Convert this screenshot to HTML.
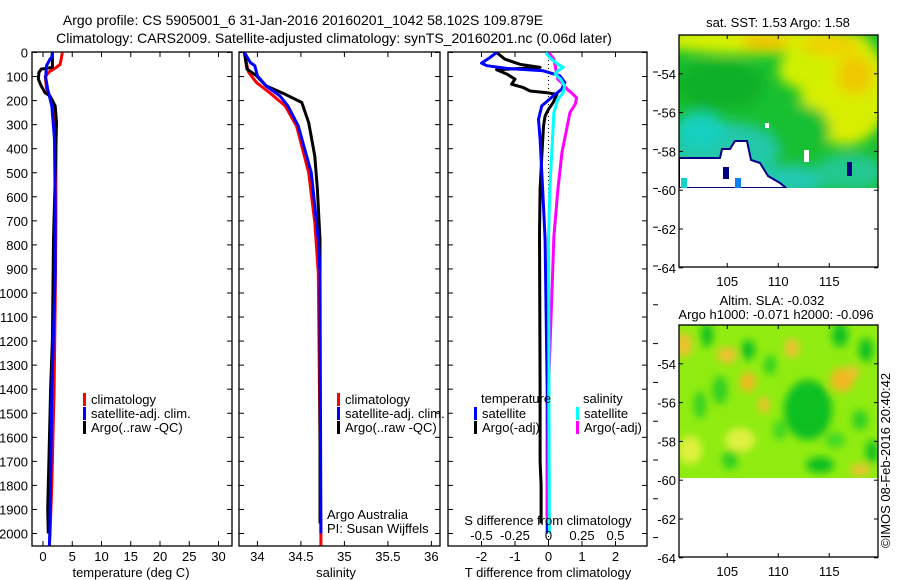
<!DOCTYPE html>
<html><head><meta charset="utf-8"><style>
html,body{margin:0;padding:0;background:#fff;}
svg{display:block;font-family:"Liberation Sans",sans-serif;}
text{font-size:13px;fill:#000;}
</style></head><body>
<svg id="chart" width="900" height="580" viewBox="0 0 900 580" xmlns="http://www.w3.org/2000/svg">
<defs>
<filter id="bl" x="-50%" y="-50%" width="200%" height="200%"><feGaussianBlur stdDeviation="6"/></filter>
<filter id="bl2" x="-50%" y="-50%" width="200%" height="200%"><feGaussianBlur stdDeviation="4"/></filter>
<clipPath id="c1"><rect x="679" y="35" width="199" height="153"/></clipPath>
<clipPath id="c2"><rect x="679" y="325" width="199" height="153"/></clipPath>
</defs>
<text x="303" y="25" text-anchor="middle" style="font-size:14px">Argo profile: CS 5905001_6 31-Jan-2016 20160201_1042 58.102S 109.879E</text>
<text x="334" y="43" text-anchor="middle" style="font-size:14px">Climatology: CARS2009. Satellite-adjusted climatology: synTS_20160201.nc (0.06d later)</text>

<g id="p1"></g>
<g id="p2"></g>
<g id="p3"></g>

<!-- SST map -->
<g>
<text x="778" y="27" text-anchor="middle">sat. SST: 1.53 Argo: 1.58</text>
<g clip-path="url(#c1)">
<rect x="679" y="35" width="199" height="153" fill="#18c030"/>
<g filter="url(#bl)">
<ellipse cx="760" cy="40" rx="110" ry="14" fill="#d8f000"/>
<ellipse cx="845" cy="90" rx="45" ry="55" fill="#d8ee00"/>
<ellipse cx="800" cy="70" rx="22" ry="18" fill="#d0f000"/>
<ellipse cx="765" cy="42" rx="25" ry="8" fill="#f0c000"/>
<ellipse cx="855" cy="75" rx="18" ry="20" fill="#f0c800"/>
<ellipse cx="830" cy="45" rx="30" ry="10" fill="#f0d000"/>
<ellipse cx="720" cy="85" rx="45" ry="25" fill="#10b028"/>
<ellipse cx="725" cy="150" rx="55" ry="28" fill="#20c8a8"/>
<ellipse cx="700" cy="130" rx="25" ry="18" fill="#18d0c0"/>
<ellipse cx="790" cy="180" rx="40" ry="15" fill="#20c8b0"/>
<ellipse cx="850" cy="172" rx="35" ry="18" fill="#20c890"/>
<ellipse cx="800" cy="130" rx="30" ry="25" fill="#18c030"/>
</g>
<polygon points="679,158 720,158 722,149 730,149 735,141 747,141 751,160 760,163 768,176 780,183 786,188 679,188" fill="#fff" stroke="#000080" stroke-width="2"/>
<rect x="681" y="178" width="6" height="10" fill="#10d0d0"/>
<rect x="723" y="167" width="6" height="12" fill="#000080"/>
<rect x="735" y="178" width="6" height="10" fill="#1080f0"/>
<rect x="847" y="162" width="5" height="14" fill="#000080"/>
<rect x="804" y="150" width="5" height="12" fill="#fff"/>
<rect x="765" y="123" width="4" height="5" fill="#fff"/>
</g>
<rect x="679" y="35" width="199" height="232" fill="none" stroke="#000" stroke-width="1.3"/>
</g>

<!-- SLA map -->
<g>
<text x="772" y="305" text-anchor="middle">Altim. SLA: -0.032</text>
<text x="776" y="319" text-anchor="middle">Argo h1000: -0.071 h2000: -0.096</text>
<g clip-path="url(#c2)">
<rect x="679" y="325" width="199" height="153" fill="#90ec10"/>
<g filter="url(#bl2)">
<ellipse cx="684" cy="345" rx="8" ry="12" fill="#f0c030"/>
<ellipse cx="727" cy="355" rx="10" ry="8" fill="#f0c030"/>
<ellipse cx="748" cy="382" rx="8" ry="10" fill="#f0b820"/>
<ellipse cx="764" cy="405" rx="6" ry="8" fill="#f0c030"/>
<ellipse cx="792" cy="348" rx="7" ry="10" fill="#f0c030"/>
<ellipse cx="842" cy="380" rx="12" ry="12" fill="#f0b820"/>
<ellipse cx="852" cy="372" rx="8" ry="6" fill="#f0c030"/>
<ellipse cx="860" cy="470" rx="10" ry="6" fill="#f0c030"/>
<ellipse cx="690" cy="450" rx="12" ry="14" fill="#e0f040"/>
<ellipse cx="740" cy="440" rx="15" ry="12" fill="#e0f040"/>
<ellipse cx="707" cy="335" rx="6" ry="12" fill="#10c020"/>
<ellipse cx="748" cy="350" rx="7" ry="10" fill="#10c020"/>
<ellipse cx="808" cy="410" rx="24" ry="30" fill="#10c020"/>
<ellipse cx="840" cy="335" rx="8" ry="12" fill="#10c020"/>
<ellipse cx="866" cy="350" rx="7" ry="12" fill="#10c020"/>
<ellipse cx="770" cy="365" rx="6" ry="10" fill="#30d020"/>
<ellipse cx="820" cy="465" rx="14" ry="8" fill="#10c020"/>
<ellipse cx="872" cy="452" rx="6" ry="12" fill="#10c020"/>
<ellipse cx="700" cy="405" rx="6" ry="14" fill="#30d020"/>
<ellipse cx="730" cy="460" rx="8" ry="10" fill="#30d020"/>
<ellipse cx="720" cy="390" rx="8" ry="14" fill="#30d020"/>
<ellipse cx="860" cy="420" rx="8" ry="10" fill="#30d020"/>
<ellipse cx="835" cy="440" rx="10" ry="8" fill="#40d820"/>
<ellipse cx="780" cy="430" rx="7" ry="10" fill="#40d820"/>
</g>
</g>
<rect x="679" y="325" width="199" height="232" fill="none" stroke="#000" stroke-width="1.3"/>
</g>
<g id="maxes"></g>
<text transform="translate(890,548) rotate(-90)">©IMOS 08-Feb-2016 20:40:42</text>
<g id="sideticks"></g>
</svg>
<script>
// ---------- data ----------
const depthTicks = [0,100,200,300,400,500,600,700,800,900,1000,1100,1200,1300,1400,1500,1600,1700,1800,1900,2000];
const tempTicks = [0,5,10,15,20,25,30];
const salTicks = [34,34.5,35,35.5,36];
const salTickLabels = ["34","34.5","35","35.5","36"];
const tdiffTicks = [-2,-1,0,1,2];
const sdiffTicks = [-0.5,-0.25,0,0.25,0.5];
const sdiffLabels = ["-0.5","-0.25","0","0.25","0.5"];

const tClimDepth = [0,30,50,65,80,100,150,190,250,400,700,1000,1400,1800,2000,2050];
const tClimVal   = [3.3,3.1,2.9,2.1,1.1,0.4,0.6,1.3,1.9,2.2,2.2,2.1,1.9,1.5,1.2,1.1];
const tSatDepth  = [0,20,28,55,104,153,222,361,639,917,1400,2000,2050];
const tSatVal    = [1.6,1.5,1.2,0.6,0.46,0.8,1.5,1.97,2.09,2.09,1.52,1.16,1.1];
const tArgoDepth = [0,62,69,83,111,139,167,181,222,292,500,778,1194,1400,1700,1900,2000];
const tArgoVal   = [1.6,1.6,-0.3,-0.7,-0.78,-0.3,0.34,1.2,2.09,2.3,2.1,1.8,1.6,1.3,1.0,0.8,0.9];

const sClimDepth = [0,55,83,125,167,222,306,500,708,917,2000,2050];
const sClimVal   = [33.85,33.88,33.9,33.99,34.14,34.32,34.45,34.59,34.66,34.7,34.73,34.73];
const sSatDepth  = [0,42,55,97,139,181,222,306,500,778,917,2000];
const sSatVal    = [33.85,33.92,33.97,34.0,34.1,34.26,34.35,34.47,34.62,34.7,34.72,34.73];
const sArgoDepth = [0,69,97,139,174,208,292,431,569,778,917,1958];
const sArgoVal   = [33.85,33.88,33.99,34.1,34.32,34.51,34.59,34.66,34.69,34.72,34.72,34.72];

const dTSatDepth = [0,21,44,55,66,76,97,125,153,181,222,278,361,500,639,778,1400,2000];
const dTSatVal   = [-1.55,-1.75,-2.0,-1.84,-1.25,-0.16,0.34,0.49,0.39,0.14,-0.2,-0.3,-0.25,-0.2,-0.15,-0.1,-0.04,-0.04];
const dTArgoDepth = [0,28,49,62,72,90,111,132,146,160,167,174,208,236,264,306,431,569,750,1400,1700,1800,1958];
const dTArgoVal   = [-1.55,-1.3,-0.85,-0.25,-1.55,-1.24,-1.0,-1.1,-0.75,-0.55,-0.05,0.25,0.14,0,-0.1,-0.15,-0.2,-0.25,-0.27,-0.25,-0.25,-0.22,-0.22];
const dSSatDepth = [0,21,49,62,76,90,111,139,167,194,250,361,569,778,2000];
const dSSatVal   = [-0.02,0.01,0.07,0.11,0.07,0.05,0.09,0.12,0.11,0.07,0.04,0.03,0.01,0.0,0.007];
const dSArgoDepth = [0,28,55,83,111,132,153,167,188,215,250,306,417,569,764,1400,1958];
const dSArgoVal   = [0,0.04,0.05,0.06,0.07,0.11,0.14,0.17,0.21,0.2,0.16,0.14,0.1,0.07,0.04,0.0,-0.01];

const latTicks = [-54,-56,-58,-60,-62,-64];
const lonTicks = [105,110,115];

// ---------- scales ----------
const NS = "http://www.w3.org/2000/svg";
const yD = d => 52.5 + 0.2405*d;
const xT = t => 43 + 5.85*t;
const xS = s => 257.4 + 87*(s-34);
const xDT = v => 548.5 + 33.5*v;
const xDS = v => 548.5 + 134*v;
function mk(tag, attrs, parent){ const e=document.createElementNS(NS,tag); for(const k in attrs) e.setAttribute(k,attrs[k]); parent.appendChild(e); return e; }
function txt(s, x, y, anchor, parent){ const e=mk('text',{x:x,y:y,'text-anchor':anchor},parent); e.textContent=s; return e; }

function panel(g, x0, x1, name){
  const r = mk('rect',{x:x0,y:52,width:x1-x0,height:494,fill:'none',stroke:'#000','stroke-width':1.3},g);
  
  
  depthTicks.forEach(d=>{
    mk('line',{x1:x0,x2:x0+5,y1:yD(d),y2:yD(d),stroke:'#000'},g);
    mk('line',{x1:x1-5,x2:x1,y1:yD(d),y2:yD(d),stroke:'#000'},g);
  });
}
function xticks(g, vals, labels, sc, y, name){
  vals.forEach((v,i)=>{
    mk('line',{x1:sc(v),x2:sc(v),y1:52,y2:57,stroke:'#000'},g);
    mk('line',{x1:sc(v),x2:sc(v),y1:541,y2:546,stroke:'#000'},g);
    const t = txt(labels[i], sc(v), y, 'middle', g);
    
    
  });
}
function line(g, depths, vals, sc, color, name, w){
  const p = depths.map((d,i)=>sc(vals[i]).toFixed(1)+','+yD(d).toFixed(1)).join(' ');
  const el = mk('polyline',{points:p,fill:'none',stroke:color,'stroke-width':w||3,'stroke-linejoin':'round'},g);
  
  
}
function legend(g, x, y, color, label, name){
  mk('rect',{x:x,y:y-11,width:3,height:13,fill:color},g);
  const t = txt(label, x+8, y, 'start', g);
  
  
}

// panel 1
const p1 = document.getElementById('p1');
panel(p1, 32, 232, 'temperature-panel');
depthTicks.forEach(d=>{
  const t = txt(String(d), 28, yD(d)+5, 'end', p1);
  
  
});
xticks(p1, tempTicks, tempTicks.map(String), xT, 561, 'temperature');
line(p1, tClimDepth, tClimVal, xT, '#f00', 'temp-climatology-line');
line(p1, tArgoDepth, tArgoVal, xT, '#000', 'temp-argo-line');
line(p1, tSatDepth, tSatVal, xT, '#00f', 'temp-satellite-line');
legend(p1, 83, 404, '#f00', 'climatology', 'legend-climatology');
legend(p1, 83, 418, '#00f', 'satellite-adj. clim.', 'legend-satellite');
legend(p1, 83, 432, '#000', 'Argo(..raw -QC)', 'legend-argo');
let xl = txt('temperature (deg C)', 131, 577, 'middle', p1);



// panel 2
const p2 = document.getElementById('p2');
panel(p2, 239, 440, 'salinity-panel');
xticks(p2, salTicks, salTickLabels, xS, 561, 'salinity');
line(p2, sClimDepth, sClimVal, xS, '#f00', 'sal-climatology-line');
line(p2, sArgoDepth, sArgoVal, xS, '#000', 'sal-argo-line');
line(p2, sSatDepth, sSatVal, xS, '#00f', 'sal-satellite-line');
legend(p2, 337, 404, '#f00', 'climatology', 'legend-climatology-2');
legend(p2, 337, 418, '#00f', 'satellite-adj. clim.', 'legend-satellite-2');
legend(p2, 337, 432, '#000', 'Argo(..raw -QC)', 'legend-argo-2');
let a1 = txt('Argo Australia', 327, 519, 'start', p2);


let a2 = txt('PI: Susan Wijffels', 327, 533, 'start', p2);


xl = txt('salinity', 336, 577, 'middle', p2);



// panel 3
const p3 = document.getElementById('p3');
panel(p3, 448, 647, 'difference-panel');
mk('line',{x1:548.5,x2:548.5,y1:56,y2:545,stroke:'#000','stroke-dasharray':'1,3'},p3);
xticks(p3, tdiffTicks, tdiffTicks.map(String), xDT, 561, 'tdiff');
line(p3, dTArgoDepth, dTArgoVal, xDT, '#000', 'tdiff-argo-line');
line(p3, dTSatDepth, dTSatVal, xDT, '#00f', 'tdiff-satellite-line');
line(p3, dSArgoDepth, dSArgoVal, xDS, '#f0f', 'sdiff-argo-line');
line(p3, dSSatDepth, dSSatVal, xDS, '#0ff', 'sdiff-satellite-line');
sdiffTicks.forEach((v,i)=>{
  const t = txt(sdiffLabels[i], xDS(v), 540, 'middle', p3);
  
  
});
let st = txt('S difference from climatology', 548, 525, 'middle', p3);


let h1 = txt('temperature', 481, 403, 'start', p3);


let h2 = txt('salinity', 583, 403, 'start', p3);


legend(p3, 474, 418, '#00f', 'satellite', 'legend-t-satellite');
legend(p3, 474, 432, '#000', 'Argo(-adj)', 'legend-t-argo');
legend(p3, 576, 418, '#0ff', 'satellite', 'legend-s-satellite');
legend(p3, 576, 432, '#f0f', 'Argo(-adj)', 'legend-s-argo');
xl = txt('T difference from climatology', 548, 577, 'middle', p3);



// map axes
const mg = document.getElementById('maxes');
const yLat = (lat, top) => top + (-52 - lat)*19.4;
const xLon = lon => 679.3 + (lon-100.3)*10.2;
[35,325].forEach(top=>{
  latTicks.forEach(l=>{
    const y = yLat(l, top);
    mk('line',{x1:679,x2:683,y1:y,y2:y,stroke:'#000'},mg);
    mk('line',{x1:874,x2:878,y1:y,y2:y,stroke:'#000'},mg);
    const t = txt(String(l), 676, y+5, 'end', mg);
    
    
  });
  lonTicks.forEach(l=>{
    const x = xLon(l);
    mk('line',{x1:x,x2:x,y1:top,y2:top+4,stroke:'#000'},mg);
    mk('line',{x1:x,x2:x,y1:top+228,y2:top+232,stroke:'#000'},mg);
    const t = txt(String(l), x, top+251, 'middle', mg);
    
    
  });
});
// stray tick marks right of difference panel
const sg = document.getElementById('sideticks');
for(let k=0;k<13;k++){ const y=72+k*38.8; mk('line',{x1:653,x2:658,y1:y,y2:y,stroke:'#000'},sg); }
</script>
</body></html>
